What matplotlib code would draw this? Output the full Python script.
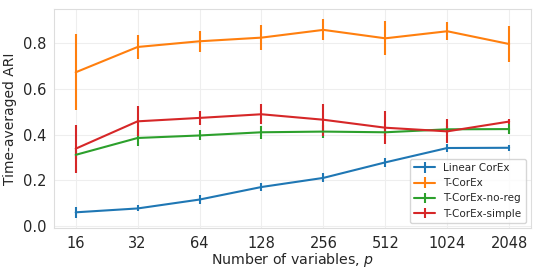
import numpy as np
import matplotlib
matplotlib.use("Agg")
import matplotlib.pyplot as plt
import seaborn as sns

sns.set_style("whitegrid")
plt.rcParams['font.family'] = ['DejaVu Sans']

n_vars = ["16", "32", "64", "128", "256", "512", "1024", "2048"]

linear_mean = [0.059, 0.076, 0.115, 0.170, 0.210, 0.278, 0.341, 0.342]
linear_err = [0.025, 0.013, 0.019, 0.018, 0.020, 0.020, 0.017, 0.013]

tcorex_mean = [0.673, 0.784, 0.809, 0.825, 0.859, 0.822, 0.853, 0.797]
tcorex_err = [0.167, 0.052, 0.046, 0.055, 0.046, 0.075, 0.039, 0.077]

noreg_mean = [0.311, 0.385, 0.396, 0.410, 0.413, 0.410, 0.423, 0.424]
noreg_err = [0.020, 0.036, 0.022, 0.028, 0.030, 0.015, 0.015, 0.022]

simple_mean = [0.338, 0.458, 0.473, 0.489, 0.465, 0.430, 0.414, 0.457]
simple_err = [0.106, 0.066, 0.029, 0.044, 0.071, 0.073, 0.053, 0.012]

x = np.arange(len(n_vars))
fig, ax = plt.subplots(figsize=(5.4, 2.78), dpi=100)
ax.errorbar(x, linear_mean, yerr=linear_err, label="Linear CorEx", color="#1f77b4", lw=1.5)
ax.errorbar(x, tcorex_mean, yerr=tcorex_err, label="T-CorEx", color="#ff7f0e", lw=1.5)
ax.errorbar(x, noreg_mean, yerr=noreg_err, label="T-CorEx-no-reg", color="#2ca02c", lw=1.5)
ax.errorbar(x, simple_mean, yerr=simple_err, label="T-CorEx-simple", color="#d62728", lw=1.5)

ax.set_xticks(x)
ax.set_xticklabels(n_vars)
ax.set_yticks([0.0, 0.2, 0.4, 0.6, 0.8])
ax.tick_params(labelsize=10.5, pad=2)
ax.set_xlabel("Number of variables, $p$", fontsize=10.2, labelpad=0)
ax.set_ylabel("Time-averaged ARI", fontsize=10, labelpad=4)
ax.grid(True, color="#eeeeee", lw=0.8)
for s in ax.spines.values():
    s.set_color("#dddddd")
ax.legend(loc="lower right", fontsize=7.5)
plt.subplots_adjust(left=0.1, right=0.983, top=0.966, bottom=0.18)
plt.savefig("out.png", dpi=100)
